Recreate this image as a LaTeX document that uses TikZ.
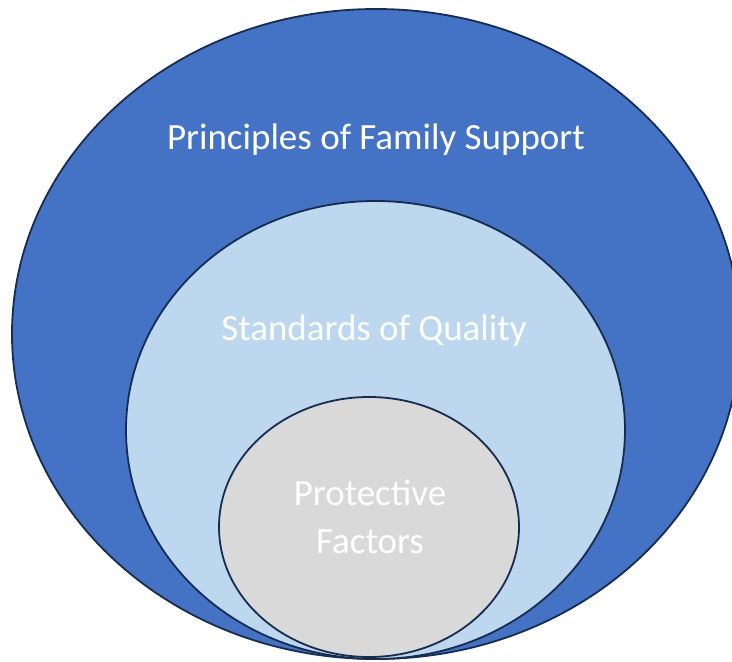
\documentclass[tikz,border=0pt]{standalone}
\usepackage{fontspec}
\setmainfont{Carlito}
\definecolor{outerblue}{HTML}{4472C4}
\definecolor{midblue}{HTML}{BDD7EE}
\definecolor{innergray}{HTML}{D9D9D9}
\definecolor{edgenavy}{HTML}{172C51}
\tikzset{
  ring/.style={draw=edgenavy, line width=1.8pt},
  label/.style={text=white, font=\fontsize{37}{48}\selectfont, align=center, inner sep=0pt}
}
\begin{document}
\begin{tikzpicture}[x=1pt,y=-1pt]
\useasboundingbox (0,0) rectangle (732,662);
\draw[ring, fill=outerblue] (376,334) ellipse [x radius=364, y radius=325];
\draw[ring, fill=midblue] (375.5,430) ellipse [x radius=249.5, y radius=229];
\draw[ring, fill=innergray] (369,527) ellipse [x radius=150, y radius=130];
\node[label] (principles) at (376,140) {Principles of Family Support};
\node[label] (standards) at (374,331) {Standards of Quality};
\node[label] (protective) at (370,517) {Protective\\Factors};
\end{tikzpicture}
\end{document}
